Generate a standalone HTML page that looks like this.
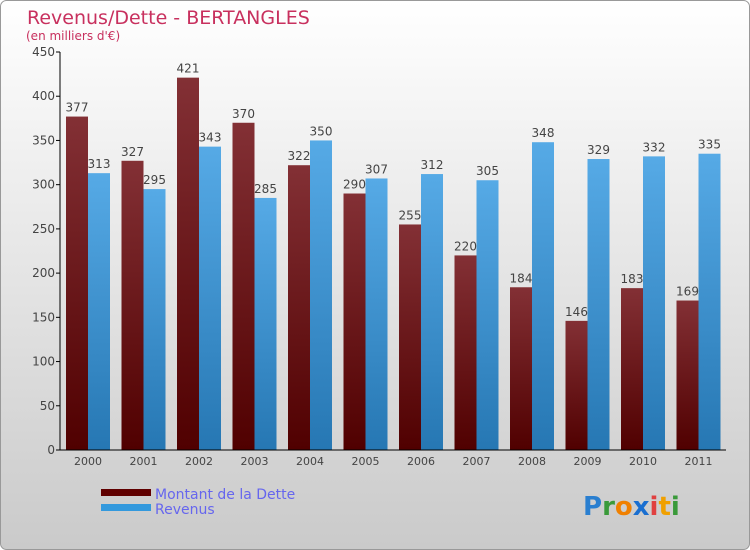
<!DOCTYPE html>
<html><head><meta charset="utf-8"><style>
body{margin:0;background:#fff}
svg{display:block;font-family:"DejaVu Sans","Liberation Sans",sans-serif}
</style></head><body>
<svg width="750" height="550" viewBox="0 0 750 550">
<defs>
<linearGradient id="bg" x1="0" y1="0" x2="0" y2="1"><stop offset="0" stop-color="#ffffff"/><stop offset="1" stop-color="#cacaca"/></linearGradient>
<linearGradient id="gd" x1="0" y1="0" x2="0" y2="1"><stop offset="0" stop-color="#833035"/><stop offset="1" stop-color="#500000"/></linearGradient>
<linearGradient id="gr" x1="0" y1="0" x2="0" y2="1"><stop offset="0" stop-color="#56aae6"/><stop offset="1" stop-color="#2677b3"/></linearGradient>
</defs>
<rect x="0.5" y="0.5" width="749" height="549" rx="6" fill="url(#bg)" stroke="#999"/>
<text x="27" y="24" font-size="19" fill="#c8305e">Revenus/Dette - BERTANGLES</text>
<text x="26" y="40" font-size="12" fill="#c8305e">(en milliers d'€)</text>
<g id="plot"></g>
<g>
<rect x="101" y="489" width="50" height="7" fill="#600000"/>
<text x="155" y="499" font-size="14" fill="#6666ee">Montant de la Dette</text>
<rect x="101" y="504" width="50" height="7" fill="#3399dd"/>
<text x="155" y="514" font-size="14" fill="#6666ee">Revenus</text>
</g>
<text x="583" y="515" font-size="26" font-weight="bold"><tspan fill="#2a7fd0">P</tspan><tspan fill="#3a9a3a">r</tspan><tspan fill="#f08000">o</tspan><tspan fill="#1a6fd0">x</tspan><tspan fill="#e04040">i</tspan><tspan fill="#f0a000">t</tspan><tspan fill="#3a9a3a">i</tspan></text>
</svg>
<script>
const years=["2000","2001","2002","2003","2004","2005","2006","2007","2008","2009","2010","2011"];
const debt=[377,327,421,370,322,290,255,220,184,146,183,169];
const revenue=[313,295,343,285,350,307,312,305,348,329,332,335];
const yTicks=[0,50,100,150,200,250,300,350,400,450];
const NS="http://www.w3.org/2000/svg";
const g=document.getElementById('plot');
const x0=60,groupW=55.5,y0=450,yMax=450,yTop=52;
const ys=v=>y0-v*(y0-yTop)/yMax;
const gx=i=>x0+i*groupW;
function mk(t,a){const e=document.createElementNS(NS,t);for(const k in a)e.setAttribute(k,a[k]);g.appendChild(e);return e;}
yTicks.forEach(v=>{
 const l=mk('line',{x1:x0-4,x2:x0,y1:ys(v),y2:ys(v),stroke:'#000'});
 
 
 const t=mk('text',{x:x0-5,y:ys(v)+4,'font-size':12,fill:'#444','text-anchor':'end'});
 t.textContent=v;
 
 
});
years.forEach((yr,i)=>{
 const bx=gx(i)+6;
 [[debt[i],'url(#gd)',bx,'bar-debt'],[revenue[i],'url(#gr)',bx+22,'bar-revenue']].forEach(([v,f,x,n])=>{
  const r=mk('rect',{x:x,y:ys(v),width:22,height:y0-ys(v),fill:f});
  
  
  const t=mk('text',{x:x+11,y:ys(v)-5,'font-size':12,fill:'#444','text-anchor':'middle'});
  t.textContent=v;
  
  
 });
 const t=mk('text',{x:gx(i)+28,y:y0+15,'font-size':11,fill:'#444','text-anchor':'middle'});
 t.textContent=yr;
 
 
});
const ya=mk('line',{x1:x0,x2:x0,y1:yTop,y2:y0,stroke:'#000'});


const xa=mk('line',{x1:x0-4,x2:x0+groupW*12,y1:y0,y2:y0,stroke:'#000'});


</script>
</body></html>
